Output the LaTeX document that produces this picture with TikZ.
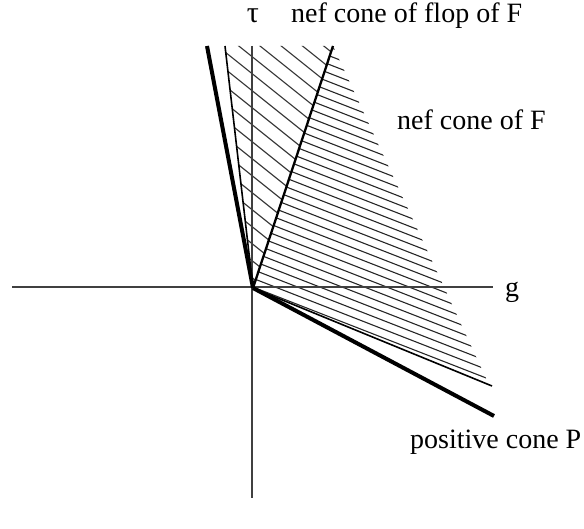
\documentclass[tikz,border=0pt]{standalone}
\usepackage{fontspec}
\setmainfont{Liberation Serif}
\begin{document}
\begin{tikzpicture}[x=1pt,y=-1pt,
  axis/.style={line width=1.3pt,black!75},
  hatchA/.style={line width=1.1pt,black!80},
  hatchB/.style={line width=1.1pt,black!85},
  thinray/.style={line width=1.6pt},
  medray/.style={line width=2.3pt},
  thickray/.style={line width=4pt},
  lbl/.style={anchor=base west,inner sep=0pt,font=\fontsize{28}{32}\selectfont}]
\useasboundingbox (0,0) rectangle (584,529);
% coordinates
\coordinate (O) at (253,288);
\coordinate (xl) at (12,287);
\coordinate (xr) at (493,287);
\coordinate (yt) at (252,46);
\coordinate (yb) at (252,498);
\coordinate (thickL) at (207,46);
\coordinate (thinL) at (225,46);
\coordinate (medR) at (333,46);
\coordinate (thinLow) at (492,386);
\coordinate (thickLow) at (494,416);
\coordinate (Bend) at (489,384.8);
% hatching region A (nef cone of flop of F)
\begin{scope}
  \clip (O) -- (thinL) -- (medR) -- cycle;
  \foreach \c in {-230,-213,...,100}
    \draw[hatchA] (200,{0.8*200+\c}) -- (360,{0.8*360+\c});
\end{scope}
% hatching region B (nef cone of F)
\begin{scope}
  \clip (O) -- (medR) -- (Bend) -- cycle;
  \foreach \c in {-90,-81.3,...,200}
    \draw[hatchB] (240,{0.39*240+\c}) -- (500,{0.39*500+\c});
\end{scope}
% axes
\draw[axis] (xl) -- (xr);
\draw[axis] (yt) -- (yb);
% rays
\draw[thickray] (O) -- (thickL);
\draw[thinray] (O) -- (thinL);
\draw[medray] (O) -- (medR);
\draw[thinray] (O) -- (thinLow);
\draw[thickray] (O) -- (thickLow);
% labels
\node[inner sep=0pt,anchor=base,font=\fontsize{30}{34}\selectfont] (tau) at (253,23) {τ};
\node[lbl] (flop) at (291,23) {nef cone of flop of F};
\node[lbl] (nef) at (397,130) {nef cone of F};
\node[lbl] (g) at (505,297) {g};
\node[lbl] (pos) at (410,448) {positive cone P};
\end{tikzpicture}
\end{document}
